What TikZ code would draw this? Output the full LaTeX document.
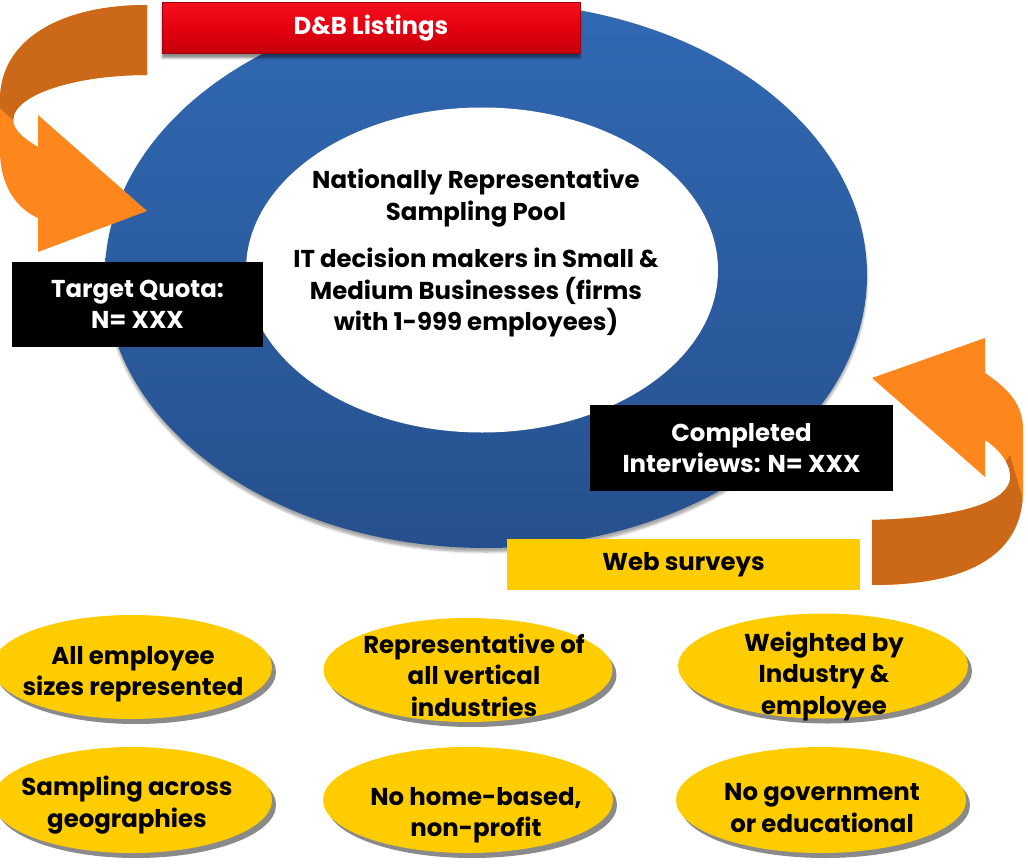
\documentclass[tikz,border=0pt]{standalone}
\usepackage{fontspec}
\setmainfont{Poppins}
\usetikzlibrary{shapes.geometric,shadows.blur}

\definecolor{ringtop}{HTML}{3169B3}
\definecolor{ringbot}{HTML}{26508D}
\definecolor{arrowlight}{HTML}{FD871D}
\definecolor{arrowdark}{HTML}{CB6918}
\definecolor{tileyellow}{HTML}{FFCC00}
\definecolor{tileshadow}{HTML}{8A8A8A}
\definecolor{bannertop}{HTML}{F5101E}
\definecolor{bannermid}{HTML}{E3000F}
\definecolor{bannerbot}{HTML}{C4000C}
\definecolor{bannerrim}{HTML}{9A000A}

\tikzset{
  bodyfont/.style={font=\bfseries\fontsize{24.4}{31.5}\selectfont},
  ring/.style={ellipse, inner sep=0, top color=ringtop, bottom color=ringbot,
    blur shadow={shadow xshift=0pt, shadow yshift=-4pt, shadow opacity=35, shadow blur steps=6}},
  core/.style={ellipse, inner sep=0, fill=white},
  banner/.style={rectangle, inner sep=0, top color=bannertop, bottom color=bannerbot,
    middle color=bannermid, draw=bannerrim, line width=1pt, text=white, bodyfont,
    blur shadow={shadow xshift=0pt, shadow yshift=-4pt, shadow opacity=45, shadow blur steps=5}},
  blackbox/.style={rectangle, inner sep=0, fill=black, text=white, bodyfont, align=center},
  yellowbox/.style={rectangle, inner sep=0, fill=tileyellow, text=black, bodyfont},
  tile/.style={ellipse, inner sep=0, fill=tileyellow,
    preaction={fill=tileshadow, transform canvas={shift={(4pt,-5pt)}}}},
  tiletext/.style={bodyfont, align=center, inner sep=0},
  pooltext/.style={bodyfont, align=center, inner sep=0},
}

\begin{document}
\begin{tikzpicture}[x=1pt,y=-1pt]
\useasboundingbox (0,0) rectangle (1028,864);

% sampling pool: blue ring with white core
\node[ring, minimum width=762pt, minimum height=546pt] (ring) at (486,275) {};
\node[core, minimum width=472pt, minimum height=325pt] (core) at (482,270) {};
\node[pooltext] (pool) at (476,253)
  {Nationally Representative\\Sampling Pool\\[16pt]IT decision makers in Small \&\\Medium Businesses (firms\\with 1-999 employees)};

% curved arrow feeding the pool (upper left)
\def\feedpath{(147,5) .. controls (60,5) and (0,40) .. (0,100) -- (0,150)
  .. controls (0,190) and (20,210) .. (38,218) -- (38,252) -- (147,211) -- (38,115) -- (38,147)
  .. controls (22,137) and (10,128) .. (14,115) .. controls (22,92) and (80,75) .. (147,75) -- cycle}
\fill[arrowlight] \feedpath;
\begin{scope}
  \clip (-5,-5) -- (200,-5) -- (200,80) -- (40,100) -- (20,126) -- (-5,104) -- cycle;
  \fill[arrowdark] \feedpath;
\end{scope}

% curved arrow returning to the pool (right)
\def\returnpath{(985,440) -- (985,477) -- (872,378) -- (985,338) -- (985,373)
  .. controls (1010,390) and (1023,405) .. (1023,430) -- (1023,490)
  .. controls (1023,560) and (960,585) .. (872,585) -- (872,520)
  .. controls (950,518) and (1005,505) .. (1010,480)
  .. controls (1012,465) and (1000,450) .. (985,440) -- cycle}
\fill[arrowlight] \returnpath;
\begin{scope}
  \clip (1052,600) -- (850,600) -- (850,505) -- (990,485) -- (1010,455) -- cycle;
  \fill[arrowdark] \returnpath;
\end{scope}

% labelled boxes
\node[banner, minimum width=418pt, minimum height=51pt] (dnb) at (371,28.5) {D\&B Listings};
\node[blackbox, minimum width=251pt, minimum height=85pt] (quota) at (137.5,304.5) {Target Quota:\\N= XXX};
\node[blackbox, minimum width=303pt, minimum height=86pt] (done) at (741.5,448) {Completed\\Interviews: N= XXX};
\node[yellowbox, minimum width=353pt, minimum height=51pt] (web) at (683.5,564.5) {Web surveys};

% sample characteristics
\node[tile, minimum width=280pt, minimum height=104pt] (t1) at (132,667) {};
\node[tile, minimum width=289pt, minimum height=104pt] (t2) at (468,670) {};
\node[tile, minimum width=290pt, minimum height=105pt] (t3) at (823,666) {};
\node[tile, minimum width=280pt, minimum height=106pt] (t4) at (132,800) {};
\node[tile, minimum width=290pt, minimum height=106pt] (t5) at (468,800) {};
\node[tile, minimum width=290pt, minimum height=106pt] (t6) at (821,800) {};

\node[tiletext] (l1) at (133,674) {All employee\\sizes represented};
\node[tiletext] (l2) at (474,675) {Representative of\\all vertical\\industries};
\node[tiletext] (l3) at (824,676) {Weighted by\\Industry \&\\employee};
\node[tiletext] (l4) at (127,805) {Sampling across\\geographies};
\node[tiletext] (l5) at (476,815) {No home-based,\\non-profit};
\node[tiletext] (l6) at (822,808) {No government\\or educational};
\end{tikzpicture}
\end{document}
